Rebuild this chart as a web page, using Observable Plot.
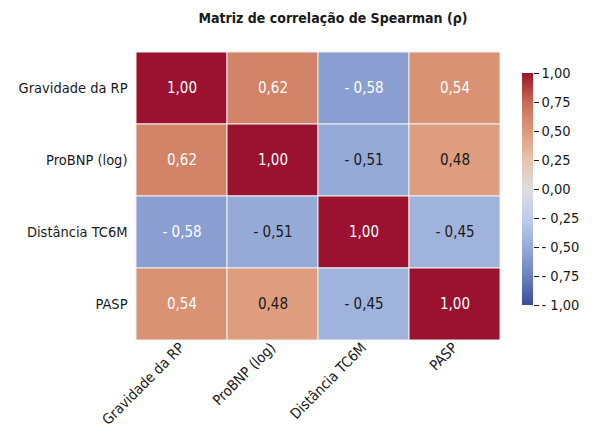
<!DOCTYPE html>
<html>
<head>
<meta charset="utf-8">
<script src="https://cdn.jsdelivr.net/npm/d3@7"></script>
<script src="https://cdn.jsdelivr.net/npm/@observablehq/plot@0.6"></script>
<style>
  html, body { margin: 0; padding: 0; background: #fff; }
  #wrap { position: relative; width: 600px; height: 427px; overflow: hidden;
    font-family: "Liberation Sans Narrow", "DejaVu Sans Condensed", "Roboto Condensed", "Arial Narrow", sans-serif; }
  #title { position: absolute; left: 0; width: 666px; top: 10px; text-align: center;
    font-weight: bold; font-size: 14px; color: #1a1a1a; }
  #main { position: absolute; left: 0; top: 0; }
  #cbar { position: absolute; left: 516px; top: 60px; }
</style>
</head>
<body>
<div id="wrap">
  <div id="main"></div>
  <div id="cbar"></div>
  <div id="title"></div>
</div>
<script>
const titleText = "Matriz de correlação de Spearman (ρ)";
const variables = ["Gravidade da RP", "ProBNP (log)", "Distância TC6M", "PASP"];
const rowGravidade = [1.00, 0.62, -0.58, 0.54];
const rowProBNP    = [0.62, 1.00, -0.51, 0.48];
const rowDistancia = [-0.58, -0.51, 1.00, -0.45];
const rowPASP      = [0.54, 0.48, -0.45, 1.00];
const colorbarTicks = [-1, -0.75, -0.5, -0.25, 0, 0.25, 0.5, 0.75, 1];

const colorDomain = [-1, -0.75, -0.5, -0.25, 0, 0.25, 0.5, 0.75, 1];
const colorRange = ["#3b4c9c", "#6b80bf", "#98acd9", "#bfcdea", "#dddddd", "#e7c4ae", "#dd9a7a", "#c96a55", "#9b1230"];

document.getElementById("title").textContent = titleText;

const fontFamily = '"Liberation Sans Narrow", "DejaVu Sans Condensed", "Roboto Condensed", "Arial Narrow", sans-serif';
const fmt = v => (v < 0 ? "- " : "") + Math.abs(v).toFixed(2).replace(".", ",");

const rows = [rowGravidade, rowProBNP, rowDistancia, rowPASP];
const table = [];
rows.forEach((r, i) => r.forEach((v, j) => table.push({row: variables[i], col: variables[j], value: v})));

const main = Plot.plot({
  width: 600,
  height: 427,
  marginLeft: 135,
  marginRight: 100,
  marginTop: 52,
  marginBottom: 87,
  style: {fontFamily, fontSize: "14.5px", color: "#1a1a1a", background: "white"},
  x: {domain: variables, padding: 0, tickRotate: -45, tickSize: 0, tickPadding: 5, label: null},
  y: {domain: variables, padding: 0, tickSize: 0, tickPadding: 8, label: null},
  color: {type: "linear", domain: colorDomain, range: colorRange, interpolate: "rgb", clamp: true},
  marks: [
    Plot.cell(table, {x: "col", y: "row", fill: "value", stroke: "#f0f0f0", strokeWidth: 1}),
    Plot.text(table, {x: "col", y: "row", text: d => fmt(d.value),
      fill: d => Math.abs(d.value) > 0.52 ? "white" : "#1a1a1a", fontSize: 15})
  ]
});
document.getElementById("main").appendChild(main);

const cb = Plot.plot({
  width: 80,
  height: 256,
  marginLeft: 6,
  marginRight: 63,
  marginTop: 13,
  marginBottom: 11,
  style: {fontFamily, fontSize: "14.5px", color: "#1a1a1a", background: "transparent", overflow: "visible"},
  y: {domain: [-1, 1], ticks: colorbarTicks, tickFormat: fmt, label: null, axis: "right", tickSize: 5, tickPadding: 3},
  marks: [
    Plot.rect([{y1: -1, y2: 1}], {y1: "y1", y2: "y2", fill: "url(#cbgrad)"})
  ]
});
const ns = "http://www.w3.org/2000/svg";
const defs = document.createElementNS(ns, "defs");
const grad = document.createElementNS(ns, "linearGradient");
grad.setAttribute("id", "cbgrad");
grad.setAttribute("x1", "0"); grad.setAttribute("y1", "1");
grad.setAttribute("x2", "0"); grad.setAttribute("y2", "0");
colorDomain.forEach((v, i) => {
  const s = document.createElementNS(ns, "stop");
  s.setAttribute("offset", ((v + 1) / 2 * 100) + "%");
  s.setAttribute("stop-color", colorRange[i]);
  grad.appendChild(s);
});
defs.appendChild(grad);
cb.insertBefore(defs, cb.firstChild);
document.getElementById("cbar").appendChild(cb);
</script>
</body>
</html>
